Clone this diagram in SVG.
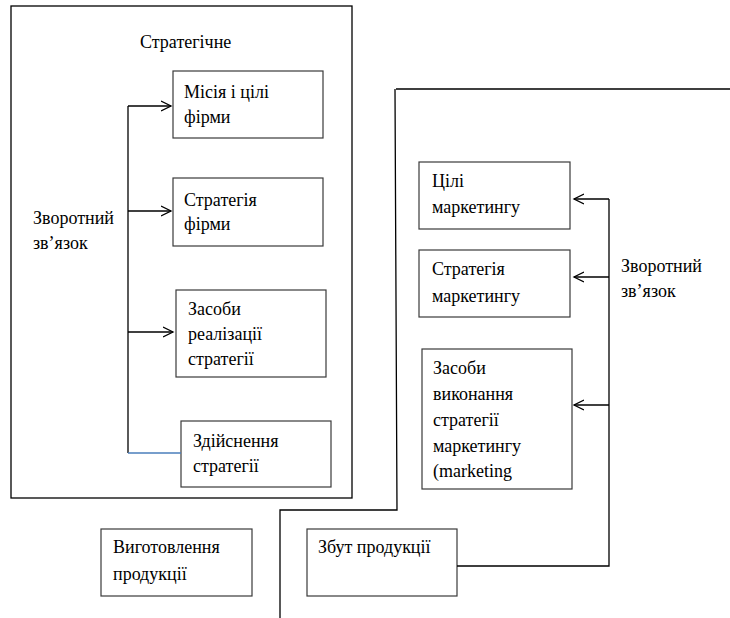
<svg xmlns="http://www.w3.org/2000/svg" width="730" height="618" viewBox="0 0 730 618" font-family="Liberation Serif, Times New Roman, serif" font-size="18">
<style>
.box{fill:#fff;stroke:#3a3a3a;stroke-width:1.2}
.ln{fill:none;stroke:#000;stroke-width:1.3}
</style>
<defs>
<marker id="ah" markerWidth="12" markerHeight="12" refX="10" refY="6" orient="auto" markerUnits="userSpaceOnUse">
<path d="M0,1 L10,6 L0,11" fill="none" stroke="#000" stroke-width="1.3"/>
</marker>
</defs>
<rect x="0" y="0" width="730" height="618" fill="#fff"/>
<g id="frames">
<rect x="11" y="6" width="341" height="492" fill="none" stroke="#000" stroke-width="1.3"/>
<path class="ln" d="M396,89 L730,89 M395,89 L397,510 L280,510 L280,618"/>
</g>
<g id="title"><text x="140" y="48" font-family="Liberation Serif">Стратегічне</text></g>
<g id="n1"><rect class="box" x="173" y="71" width="150" height="67"/><text x="184" y="98">Місія і цілі</text><text x="184" y="123">фірми</text></g>
<g id="n2"><rect class="box" x="173" y="178" width="150" height="68"/><text x="184" y="206">Стратегія</text><text x="184" y="230">фірми</text></g>
<g id="n3"><rect class="box" x="176" y="290" width="150" height="87"/><text x="188" y="315">Засоби</text><text x="188" y="340">реалізації</text><text x="188" y="365">стратегії</text></g>
<g id="n4"><rect class="box" x="181" y="421" width="150" height="66"/><text x="193" y="447">Здійснення</text><text x="193" y="472">стратегії</text></g>
<g id="fb1"><text x="33" y="224">Зворотний</text><text x="33" y="249">зв’язок</text></g>
<g id="m1"><rect class="box" x="419" y="162" width="151" height="67"/><text x="432" y="187">Цілі</text><text x="432" y="213">маркетингу</text></g>
<g id="m2"><rect class="box" x="419" y="250" width="151" height="67"/><text x="432" y="275">Стратегія</text><text x="432" y="302">маркетингу</text></g>
<g id="m3"><rect class="box" x="422" y="349" width="150" height="140"/><text x="433" y="374">Засоби</text><text x="433" y="400">виконання</text><text x="433" y="426">стратегії</text><text x="433" y="452">маркетингу</text><text x="433" y="477">(marketing</text></g>
<g id="fb2"><text x="621" y="272">Зворотний</text><text x="621" y="297">зв’язок</text></g>
<g id="p1"><rect class="box" x="101" y="529" width="151" height="67"/><text x="113" y="553">Виготовлення</text><text x="113" y="580">продукції</text></g>
<g id="p2"><rect class="box" x="307" y="529" width="150" height="67"/><text x="318" y="553">Збут продукції</text></g>
<g id="connectors">
<path class="ln" d="M128,106 L128,453"/>
<path class="ln" d="M128,106 L171,106" marker-end="url(#ah)"/>
<path class="ln" d="M128,211 L171,211" marker-end="url(#ah)"/>
<path class="ln" d="M128,332 L173,332" marker-end="url(#ah)"/>
<path d="M128,453 L181,453" fill="none" stroke="#4a7ebb" stroke-width="1.3"/>
<path class="ln" d="M457,566 L609,566 L609,199"/>
<path class="ln" d="M609,199 L574,199" marker-end="url(#ah)"/>
<path class="ln" d="M609,277 L574,277" marker-end="url(#ah)"/>
<path class="ln" d="M609,405 L574,405" marker-end="url(#ah)"/>
</g>
</svg>
